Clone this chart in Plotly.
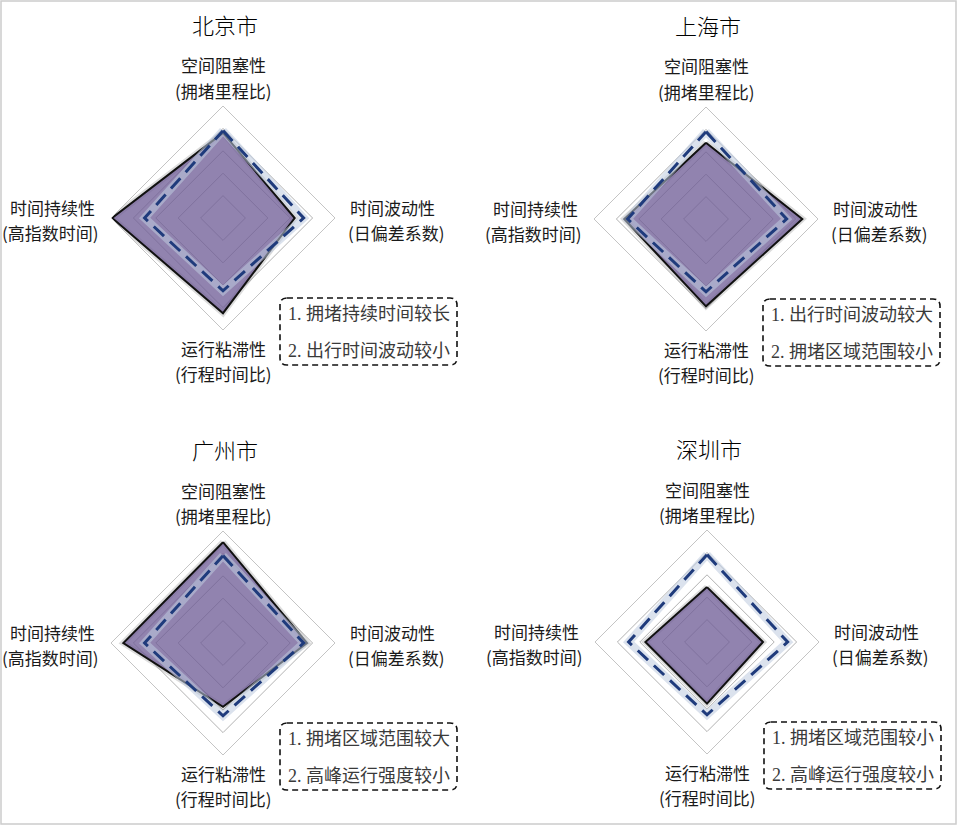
import plotly.graph_objects as go

# ---------------- data ----------------
axes_names = ["空间阻塞性", "时间波动性", "运行粘滞性", "时间持续性"]
axes_subs = ["(拥堵里程比)", "(日偏差系数)", "(行程时间比)", "(高指数时间)"]

cities = ["北京市", "上海市", "广州市", "深圳市"]
beijing = [0.76, 0.64, 0.85, 0.99]
shanghai = [0.68, 0.86, 0.78, 0.73]
guangzhou = [0.90, 0.75, 0.57, 0.89]
shenzhen = [0.49, 0.50, 0.55, 0.55]
reference = [0.78, 0.72, 0.65, 0.70]   # dashed benchmark polygon

notes_1 = ["1. 拥堵持续时间较长", "1. 出行时间波动较大", "1. 拥堵区域范围较大", "1. 拥堵区域范围较小"]
notes_2 = ["2. 出行时间波动较小", "2. 拥堵区域范围较小", "2. 高峰运行强度较小", "2. 高峰运行强度较小"]

grid_levels = [0.2, 0.4, 0.6, 0.8, 1.0]

# ---------------- layout geometry (pixels) ----------------
W, H = 959, 825
R = 112
centers = [(223, 218), (706, 219), (223, 643), (707, 642)]

SANS = "Noto Sans CJK SC, sans-serif"
SERIF = "Liberation Serif, Noto Sans CJK SC, serif"


def px(x):
    return x / W


def py(y):
    return 1 - y / H


series = [beijing, shanghai, guangzhou, shenzhen]
fig = go.Figure()
annotations = []
shapes = []
layout_polars = {}

for i, (city, vals, (cx, cy)) in enumerate(zip(cities, series, centers)):
    pname = "polar" if i == 0 else f"polar{i + 1}"
    layout_polars[pname] = dict(
        domain=dict(x=[px(cx - R), px(cx + R)], y=[py(cy + R), py(cy - R)]),
        gridshape="linear",
        bgcolor="rgba(0,0,0,0)",
        radialaxis=dict(range=[0, 1], tickvals=grid_levels, showticklabels=False,
                        ticks="", showline=False, gridcolor="#b2b2b2", gridwidth=1),
        angularaxis=dict(rotation=90, direction="clockwise", showticklabels=False,
                         ticks="", showgrid=False, linecolor="#c4c4c4", linewidth=1),
    )
    theta = axes_names + [axes_names[0]]
    rv = vals + [vals[0]]
    refv = reference + [reference[0]]
    # soft shadow of city polygon
    fig.add_trace(go.Scatterpolar(r=rv, theta=theta, subplot=pname, mode="lines",
                                  line=dict(color="rgba(60,60,60,0.18)", width=6),
                                  hoverinfo="skip", showlegend=False))
    # city polygon
    fig.add_trace(go.Scatterpolar(r=rv, theta=theta, subplot=pname, mode="lines",
                                  fill="toself", fillcolor="rgba(110,92,150,0.76)",
                                  line=dict(color="#111111", width=2),
                                  name=city, showlegend=False))
    # glow of benchmark
    fig.add_trace(go.Scatterpolar(r=refv, theta=theta, subplot=pname, mode="lines",
                                  line=dict(color="rgba(190,202,222,0.55)", width=8),
                                  hoverinfo="skip", showlegend=False))
    # benchmark dashed
    fig.add_trace(go.Scatterpolar(r=refv, theta=theta, subplot=pname, mode="lines",
                                  line=dict(color="#1f3b7c", width=3, dash="14px,8px"),
                                  name="基准", showlegend=False))

    # title
    annotations.append(dict(x=px(cx + 2), y=py(cy - 194), xref="paper", yref="paper",
                            text=city, showarrow=False, xanchor="center", yanchor="middle",
                            font=dict(family=SANS, size=22, color="#000000", weight=300)))
    # axis labels (two lines each)
    lab_pos = [
        (cx, cy - 153, "center", cx, cy - 128, "center"),
        (cx + R + 13, cy - 11, "left", cx + R + 11, cy + 14, "left"),
        (cx, cy + 130, "center", cx, cy + 155, "center"),
        (cx - R - 14, cy - 11, "right", cx - R - 10, cy + 14, "right"),
    ]
    for k, (x1, y1, a1, x2, y2, a2) in enumerate(lab_pos):
        annotations.append(dict(x=px(x1), y=py(y1), xref="paper", yref="paper",
                                text=axes_names[k], showarrow=False, xanchor=a1,
                                yanchor="middle",
                                font=dict(family=SANS, size=17, color="#1a1a1a")))
        annotations.append(dict(x=px(x2), y=py(y2), xref="paper", yref="paper",
                                text=axes_subs[k], showarrow=False, xanchor=a2,
                                yanchor="middle",
                                font=dict(family=SANS, size=17, color="#1a1a1a")))
    # note box
    x0, y0, x1, y1, rr = cx + 57, cy + 80, cx + 234, cy + 147, 7
    path = (f"M {px(x0 + rr)},{py(y0)} L {px(x1 - rr)},{py(y0)} "
            f"Q {px(x1)},{py(y0)} {px(x1)},{py(y0 + rr)} L {px(x1)},{py(y1 - rr)} "
            f"Q {px(x1)},{py(y1)} {px(x1 - rr)},{py(y1)} L {px(x0 + rr)},{py(y1)} "
            f"Q {px(x0)},{py(y1)} {px(x0)},{py(y1 - rr)} L {px(x0)},{py(y0 + rr)} "
            f"Q {px(x0)},{py(y0)} {px(x0 + rr)},{py(y0)} Z")
    shapes.append(dict(type="path", path=path, xref="paper", yref="paper",
                       line=dict(color="#111111", width=1.6, dash="6px,4px")))
    annotations.append(dict(x=px(cx + 63), y=py(cy + 96), xref="paper", yref="paper",
                            text=notes_1[i], showarrow=False, xanchor="left", yanchor="middle",
                            font=dict(family=SERIF, size=18, color="#3a3a3a")))
    annotations.append(dict(x=px(cx + 63), y=py(cy + 133), xref="paper", yref="paper",
                            text=notes_2[i], showarrow=False, xanchor="left", yanchor="middle",
                            font=dict(family=SERIF, size=18, color="#3a3a3a")))

# outer frame
shapes.append(dict(type="rect", xref="paper", yref="paper", x0=px(1), x1=px(956),
                   y0=py(824), y1=py(1), line=dict(color="#cccccc", width=1.5)))

fig.update_layout(width=W, height=H, margin=dict(l=0, r=0, t=0, b=0),
                  paper_bgcolor="white", plot_bgcolor="white",
                  annotations=annotations, shapes=shapes, showlegend=False,
                  **layout_polars)

fig.write_html("out.html", config={"displayModeBar": False},
               post_script="document.body.style.margin='0';document.body.style.overflow='hidden';")
